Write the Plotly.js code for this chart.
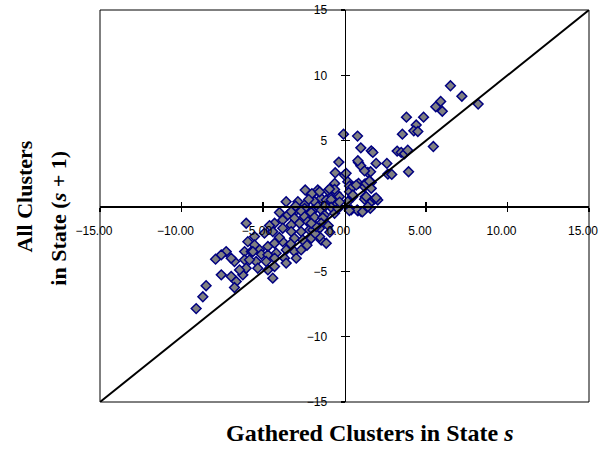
<!DOCTYPE html>
<html>
<head>
<meta charset="utf-8">
<script src="https://cdn.plot.ly/plotly-3.0.1.min.js"></script>
<style>html,body{margin:0;padding:0;background:#fff;}#chart{width:605px;height:449px;}</style>
</head>
<body>
<div id="chart"></div>
<script>
// Gathered clusters in state s (x) vs all clusters in state s+1 (y)
const gathered = [
  6.5, 7.2, 8.2, 5.6, 5.9, 6.0, 4.85, 3.8, 4.4, 4.25, 4.5, 3.55, 5.45, 0.8, -0.06, 1.0, 1.64, 1.74,
  3.23, 3.48, 3.68, 3.88, 3.93, 2.6, 1.94, 0.86, 1.0, 1.43, 1.6, 2.66, 2.9, 0.86, 1.23, 1.64,
  1.27, 1.84, 2.04, 0.0, 0.2, 0.31, 1.23, 0.31, 0.51, 1.94, 0.41, 0.82, 1.58, 1.02, 1.53, 1.43,
  -0.35, -0.57, 0.1, 1.23, 0.82, -0.5, -0.6, 0.51, 1.33, 1.53, 1.64, 0.72,
  -1.64, -1.02, -0.61, -2.41, -0.92, -2.04, -1.43, -1.12, -2.0, -1.53,
  -3.58, -2.86, -1.84, -0.82, -2.45, 0.2, 0.78, 1.23, -0.82, -0.51, -0.31,
  -3.99, -3.48, -2.96, -2.45, -1.94, -1.64, -3.27, -2.66, -2.04, -1.43, -0.82,
  -3.07, -2.45, -1.84, -1.23, -0.61, -4.29, -3.79, -3.27, -2.76, -2.25, -1.33, -2.04, -1.43,
  -6.03, -5.52, -4.91, -4.4, -3.79, -3.27, -2.66, -2.15, -1.53,
  -5.93, -5.52, -5.21, -4.7, -4.29, -3.79, -3.07, -2.56, -2.04, -1.43,
  -7.26, -6.13, -5.72, -5.1, -4.7, -4.19, -3.58, -3.07, -2.66,
  -6.75, -6.13, -5.42, -4.8, -4.29, -3.68, -2.96,
  -6.24, -5.32, -4.7, -4.29, -3.58, -4.4,
  -7.91, -7.56, -6.95, -7.56, -6.95, -6.64, -6.75, -6.24, -6.03, -6.44,
  -8.49, -8.69, -9.1, -1.12, -1.53, -1.94, -5.83, -5.62, 0.51, 1.33,
  -4.0, -3.3, -2.3, -1.8, -1.0, -0.9, -4.6, -3.0, -2.2, -1.2, -0.4, -0.3, -1.74, -2.04, 0.3, 1.1
];
const allClusters = [
  9.2, 8.4, 7.8, 7.6, 8.0, 7.25, 6.8, 6.8, 6.2, 5.75, 5.7, 5.5, 4.55, 5.35, 5.5, 4.45, 4.22, 4.1,
  4.2, 4.1, 4.0, 4.27, 2.62, 3.26, 3.26, 3.33, 3.08, 2.57, 2.62, 2.44, 2.42, 1.73, 1.66, 1.81,
  0.71, 0.53, 0.46, 2.37, 1.86, 1.53, 1.47, 1.09, 0.71, 0.62, -0.3, -0.36, -0.18, -0.43, 0.2, -0.05,
  3.36, 2.54, 2.5, 2.69, 3.46, 0.97, 1.73, 1.47, 1.73, 1.9, 1.35, 1.6,
  1.22, 1.17, 1.27, 1.22, 1.3, 0.84, 0.59, 0.46, 0.95, 1.09,
  0.33, 0.33, 0.33, 0.33, 0.08, 0.33, -0.31, 0.51, 0.5, 0.08, 0.71,
  -0.5, -0.69, -0.31, -0.18, -0.31, -0.05, -0.43, -0.4, -0.5, -0.31, -0.1,
  -0.94, -0.82, -0.86, -0.69, -0.56, -1.32, -1.07, -1.45, -1.32, -1.2, -0.9, -1.45, -1.32,
  -1.32, -2.34, -2.08, -1.96, -1.7, -1.96, -1.96, -1.83, -1.7,
  -2.73, -2.98, -3.36, -3.1, -2.85, -2.73, -2.47, -2.6, -2.47, -2.6,
  -3.49, -3.49, -3.49, -3.7, -3.74, -3.61, -3.36, -3.49, -3.36,
  -4.25, -4.12, -4.25, -4.25, -3.99, -3.99, -3.99,
  -5.02, -4.76, -4.89, -4.63, -4.37, -5.52,
  -4.07, -3.74, -4.0, -5.27, -5.4, -5.78, -6.24, -5.27, -4.76, -4.89,
  -6.1, -6.95, -7.85, -2.85, -2.34, -1.83, -4.12, -3.49, 0.84, 0.71,
  -2.4, -2.9, -3.0, -2.1, -1.5, -2.0, -1.5, 0.0, 0.5, 0.0, -0.2, 0.3, -1.58, -1.32, -0.35, -0.45
];
const diagX = [-15, 15];
const diagY = [-15, 15];
const xTickVals = [-15, -10, -5, 0, 5, 10, 15];
const yTickVals = [-15, -10, -5, 0, 5, 10, 15];

const scatter = {
  type: 'scatter', mode: 'markers', x: gathered, y: allClusters,
  xaxis: 'x', yaxis: 'y',
  marker: {symbol: 'diamond', size: 7.5, color: '#808080', line: {color: '#000080', width: 1.5}},
  hoverinfo: 'skip'
};
const diag = {
  type: 'scatter', mode: 'lines', x: diagX, y: diagY,
  xaxis: 'x2', yaxis: 'y2',
  line: {color: '#000000', width: 2},
  hoverinfo: 'skip'
};

const tickFont = {family: 'Liberation Sans, Arial, sans-serif', size: 12, color: '#000'};
const titleFont = {family: 'Liberation Serif, Times New Roman, serif', size: 22, color: '#000'};

const layout = {
  width: 605, height: 449,
  margin: {l: 100, r: 16, t: 10, b: 47},
  paper_bgcolor: '#fff', plot_bgcolor: '#fff',
  showlegend: false,
  xaxis: {
    range: [-15, 15], anchor: 'free', position: 0.5,
    tickvals: xTickVals, tickformat: '.2f',
    ticks: 'outside', ticklen: 4, tickwidth: 1.5, tickcolor: '#000',
    ticklabelstandoff: 9, ticklabelshift: -6,
    showline: true, linecolor: '#000', linewidth: 1.5,
    showgrid: false, zeroline: false, tickfont: tickFont
  },
  yaxis: {
    range: [-15, 15], anchor: 'free', position: 0.5,
    tickvals: yTickVals, tickformat: 'd',
    ticks: 'outside', ticklen: 4, tickwidth: 1.5, tickcolor: '#000',
    ticklabelstandoff: 11,
    showline: true, linecolor: '#000', linewidth: 1.5,
    showgrid: false, zeroline: false, tickfont: tickFont
  },
  xaxis2: {
    range: [-15, 15], overlaying: 'x', anchor: 'free', position: 0.5,
    tickvals: xTickVals, ticks: 'inside', ticklen: 4, tickwidth: 1.5, tickcolor: '#000',
    showticklabels: false, showline: false, showgrid: false, zeroline: false
  },
  yaxis2: {
    range: [-15, 15], overlaying: 'y', anchor: 'free', position: 0.5,
    tickvals: yTickVals, ticks: 'inside', ticklen: 4, tickwidth: 1.5, tickcolor: '#000',
    showticklabels: false, showline: false, showgrid: false, zeroline: false
  },
  shapes: [{type: 'rect', xref: 'paper', yref: 'paper', x0: 0, x1: 1, y0: 0, y1: 1,
            line: {color: '#000', width: 1}, layer: 'above'}],
  annotations: [
    {xref: 'paper', yref: 'paper', x: 0.552, y: -0.08, xanchor: 'center', yanchor: 'middle',
     text: '<b>Gathered Clusters in State <i>s</i></b>', showarrow: false,
     font: {family: titleFont.family, size: 24, color: '#000'}},
    {xref: 'paper', yref: 'paper', x: -0.155, y: 0.525, xanchor: 'center', yanchor: 'middle', textangle: -90,
     text: '<b>All Clusters</b>', showarrow: false, font: titleFont},
    {xref: 'paper', yref: 'paper', x: -0.084, y: 0.47, xanchor: 'center', yanchor: 'middle', textangle: -90,
     text: '<b>in State (<i>s</i> + 1)</b>', showarrow: false, font: titleFont}
  ]
};

Plotly.newPlot('chart', [scatter, diag], layout, {displayModeBar: false, staticPlot: true});
</script>
</body>
</html>
